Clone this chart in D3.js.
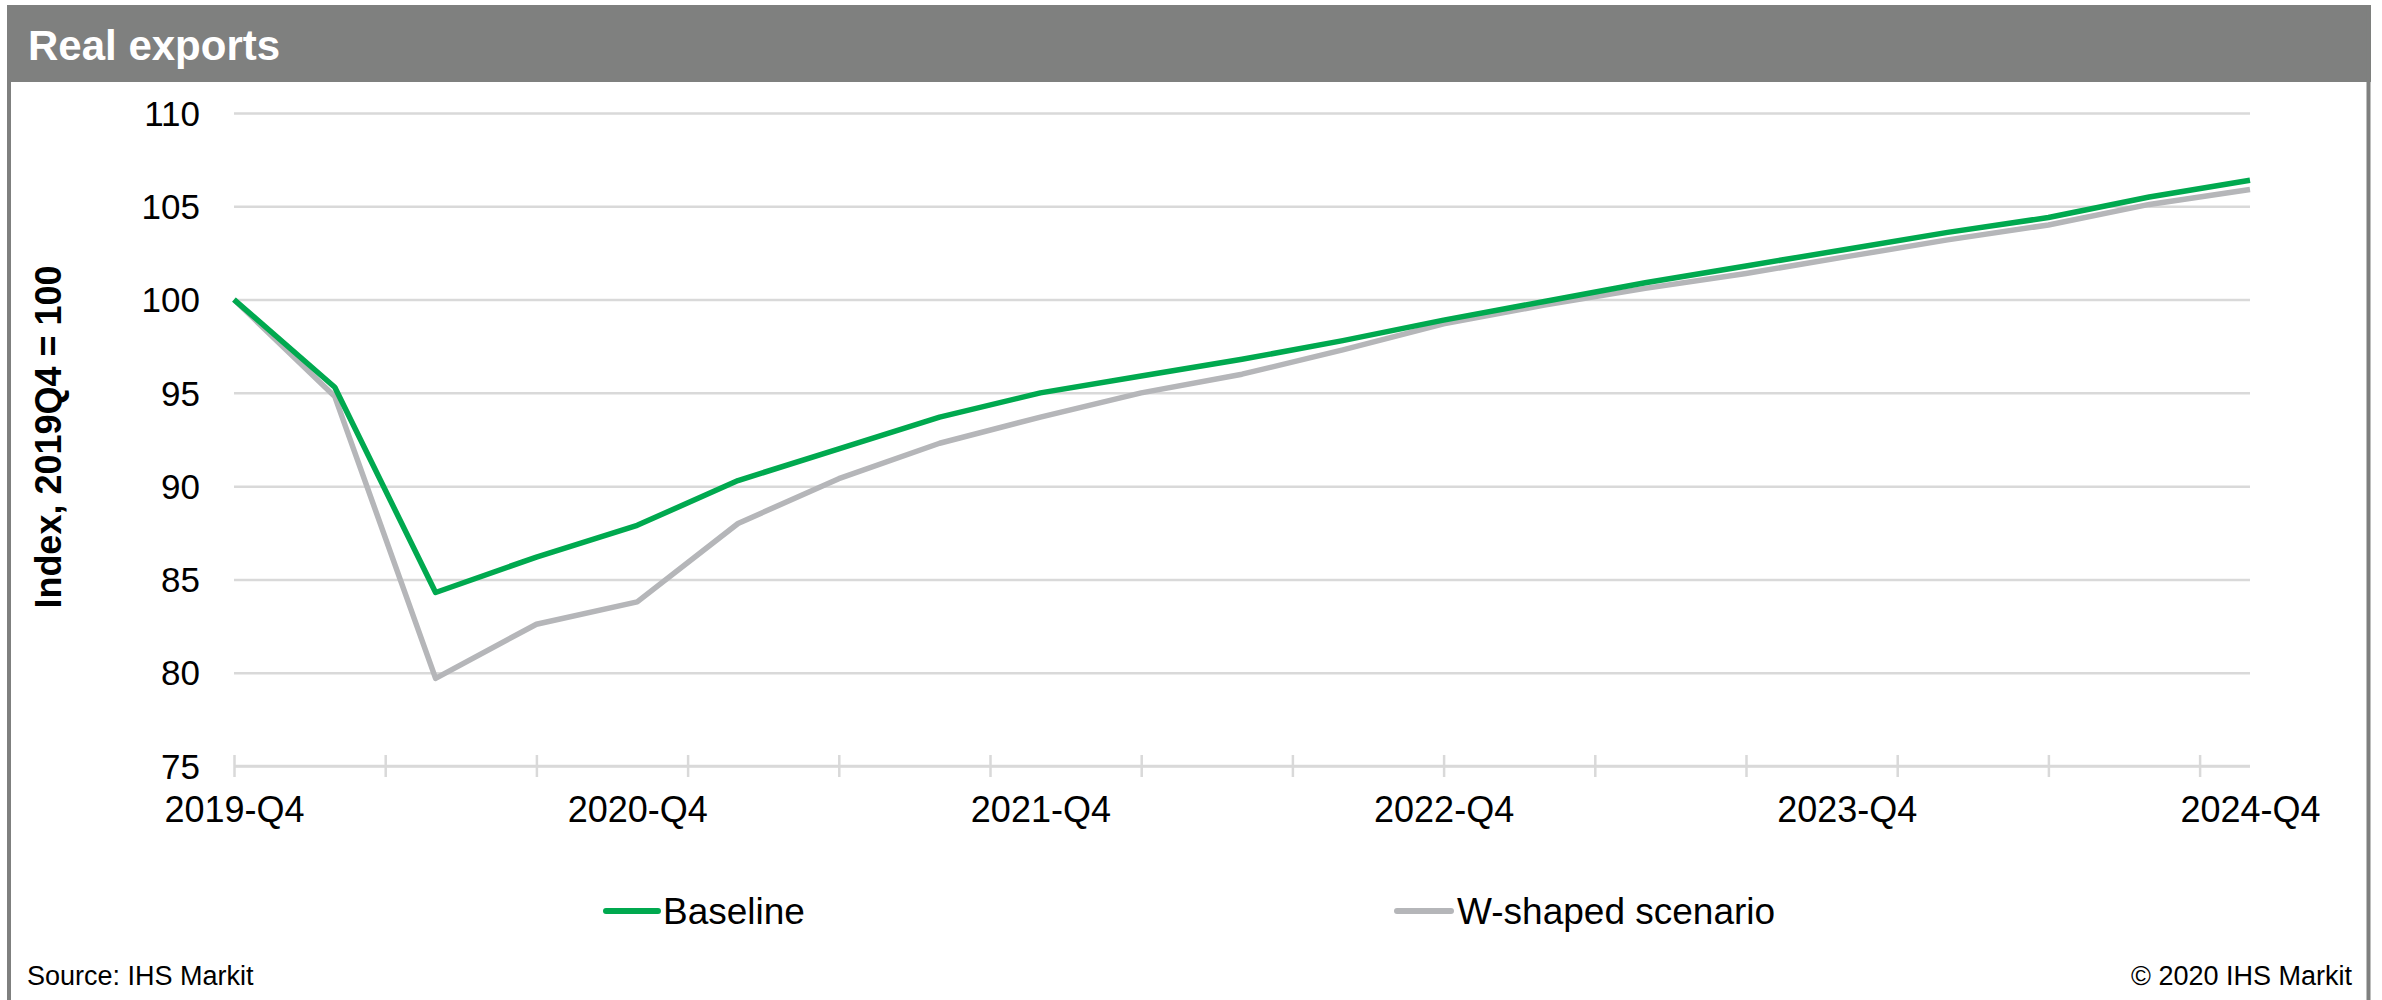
<!DOCTYPE html>
<html>
<head>
<meta charset="utf-8">
<script src="https://cdn.jsdelivr.net/npm/d3@7"></script>
<style>
  html, body { margin: 0; padding: 0; background: #ffffff; }
  svg { display: block; }
  text { font-family: "Liberation Sans", Arial, Helvetica, sans-serif; }
</style>
</head>
<body>
<svg id="chart" width="2382" height="1000"></svg>
<script>
// ---- Data ----
const quarters = ["2019-Q4","2020-Q1","2020-Q2","2020-Q3","2020-Q4","2021-Q1","2021-Q2","2021-Q3","2021-Q4",
  "2022-Q1","2022-Q2","2022-Q3","2022-Q4","2023-Q1","2023-Q2","2023-Q3","2023-Q4","2024-Q1","2024-Q2","2024-Q3","2024-Q4"];
const baseline = [100, 95.3, 84.3, 86.2, 87.9, 90.3, 92.0, 93.7, 95.0, 95.9, 96.8, 97.8, 98.9, 99.9, 100.9, 101.8, 102.7, 103.6, 104.4, 105.5, 106.4];
const wShaped  = [100, 94.8, 79.7, 82.6, 83.8, 88.0, 90.4, 92.3, 93.7, 95.0, 96.0, 97.3, 98.7, 99.7, 100.6, 101.4, 102.3, 103.2, 104.0, 105.1, 105.9];
const yTicks = [75, 80, 85, 90, 95, 100, 105, 110];
const xLabelQuarters = ["2019-Q4","2020-Q4","2021-Q4","2022-Q4","2023-Q4","2024-Q4"];
const seriesNames = ["Baseline", "W-shaped scenario"];
const titleText = "Real exports";
const yTitle = "Index, 2019Q4 = 100";
const sourceText = "Source: IHS Markit";
const copyrightText = "\u00A9 2020 IHS Markit";

// ---- Layout ----
const svg = d3.select("#chart");
const W = 2382, H = 1000;
const plot = { left: 234, right: 2250, top: 113, bottom: 766 };
const GREEN = "#00a94f", GREY = "#b5b6b9", FRAME = "#7f807f", GRID = "#d9d9d9";

svg.append("rect").attr("x", 0).attr("y", 0).attr("width", W).attr("height", H).attr("fill", "#fff");

// Frame + header
svg.append("rect").attr("x", 7).attr("y", 5).attr("width", 2364).attr("height", 77).attr("fill", FRAME);
svg.append("line").attr("x1", 9).attr("x2", 9).attr("y1", 5).attr("y2", H + 5)
  .attr("stroke", FRAME).attr("stroke-width", 4);
svg.append("line").attr("x1", 2368.5).attr("x2", 2368.5).attr("y1", 5).attr("y2", H + 5)
  .attr("stroke", FRAME).attr("stroke-width", 4);

svg.append("text").attr("x", 28).attr("y", 60).attr("fill", "#fff")
  .attr("font-size", 42).attr("font-weight", "bold").text(titleText);

// ---- Scales ----
const x = d3.scaleLinear().domain([0, quarters.length - 1]).range([plot.left, plot.right]);
const y = d3.scaleLinear().domain([75, 110]).range([plot.bottom, plot.top]);

// Gridlines + y labels
const yAxis = d3.axisLeft(y).tickValues(yTicks).tickSize(-(plot.right - plot.left)).tickPadding(34)
  .tickFormat(d3.format("d"));
const gy = svg.append("g").attr("transform", `translate(${plot.left},0)`).call(yAxis);
gy.select(".domain").remove();
gy.selectAll(".tick line").attr("stroke", GRID).attr("stroke-width", 2.5);
gy.selectAll(".tick text").attr("font-size", 35).attr("fill", "#000")
  .attr("font-family", "'Liberation Sans', Arial, sans-serif").attr("dy", "0.35em");

// x-axis line and cross ticks (every 1.5 quarters)
const tickPos = d3.range(0, quarters.length - 1, 1.5);
const xTickAxis = d3.axisBottom(x).tickValues(tickPos).tickSize(11).tickFormat("");
const gx = svg.append("g").attr("transform", `translate(0,${plot.bottom})`).call(xTickAxis);
gx.select(".domain").attr("stroke", GRID).attr("stroke-width", 2.5)
  .attr("d", `M${plot.left},0H${plot.right}`);
gx.selectAll(".tick line").attr("stroke", GRID).attr("stroke-width", 2.5).attr("y1", -11).attr("y2", 11);

// x labels
const labelIdx = xLabelQuarters.map(q => quarters.indexOf(q));
const xLabAxis = d3.axisBottom(x).tickValues(labelIdx).tickSize(0).tickPadding(0)
  .tickFormat(i => quarters[i]);
const gxl = svg.append("g").attr("transform", `translate(0,${plot.bottom})`).call(xLabAxis);
gxl.select(".domain").remove();
gxl.selectAll(".tick text").attr("font-size", 36).attr("fill", "#000")
  .attr("font-family", "'Liberation Sans', Arial, sans-serif").attr("dy", null).attr("y", 56);

// Y title
svg.append("text").attr("transform", `translate(61,437) rotate(-90)`)
  .attr("text-anchor", "middle").attr("font-size", 36).attr("font-weight", "bold").attr("fill", "#000")
  .text(yTitle);

// ---- Lines ----
const line = d3.line().x((d, i) => x(i)).y(d => y(d));
svg.append("path").datum(wShaped).attr("d", line).attr("fill", "none")
  .attr("stroke", GREY).attr("stroke-width", 5.5).attr("stroke-linejoin", "round");
svg.append("path").datum(baseline).attr("d", line).attr("fill", "none")
  .attr("stroke", GREEN).attr("stroke-width", 5.5).attr("stroke-linejoin", "round");

// ---- Legend ----
const legendItems = [
  { name: seriesNames[0], color: GREEN, x0: 606, x1: 658, tx: 663 },
  { name: seriesNames[1], color: GREY, x0: 1397, x1: 1451, tx: 1457 }
];
const lg = svg.append("g");
legendItems.forEach(it => {
  lg.append("line").attr("x1", it.x0).attr("x2", it.x1).attr("y1", 911).attr("y2", 911)
    .attr("stroke", it.color).attr("stroke-width", 6).attr("stroke-linecap", "round");
  lg.append("text").attr("x", it.tx).attr("y", 924).attr("font-size", 37).attr("fill", "#000").text(it.name);
});

// ---- Footer ----
svg.append("text").attr("x", 27).attr("y", 985).attr("font-size", 27).attr("fill", "#000").text(sourceText);
svg.append("text").attr("x", 2352).attr("y", 985).attr("text-anchor", "end").attr("font-size", 27)
  .attr("fill", "#000").text(copyrightText);
</script>
</body>
</html>
